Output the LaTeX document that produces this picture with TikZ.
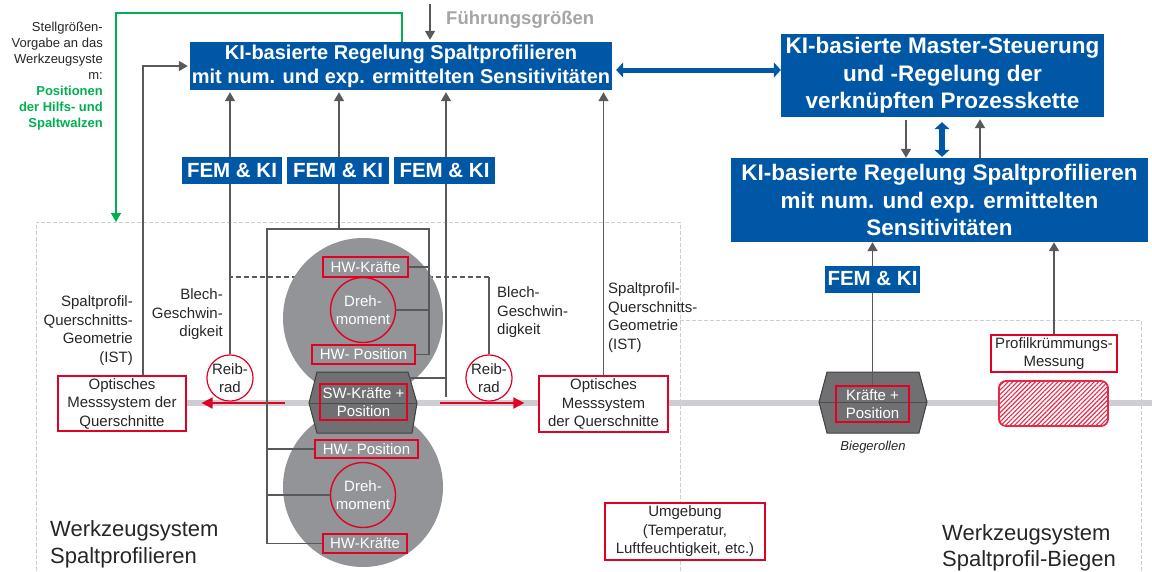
\documentclass[tikz,border=0pt]{standalone}
\usepackage{fontspec}
\setmainfont{Liberation Sans}
\usetikzlibrary{arrows.meta,patterns.meta}

\definecolor{kiblue}{RGB}{0,87,165}
\definecolor{kired}{RGB}{226,0,36}
\definecolor{hatchred}{RGB}{232,40,70}
\definecolor{kigreen}{RGB}{0,176,80}
\definecolor{linegray}{RGB}{88,89,91}
\definecolor{rollgray}{RGB}{147,148,151}
\definecolor{hexgray}{RGB}{112,112,115}
\definecolor{bandgray}{RGB}{204,206,209}
\definecolor{zonegray}{RGB}{205,205,205}
\definecolor{labelgray}{RGB}{165,165,165}

\newcommand{\fsz}[2]{\fontsize{#1}{#2}\selectfont}

\tikzset{
  kibox/.style={fill=kiblue, text=white, align=center, inner sep=0pt,
    font=\bfseries\fsz{20}{24}},
  kibig/.style={kibox, font=\bfseries\fsz{22.5}{27.5}},
  fem/.style={kibox, minimum height=27pt, font=\bfseries\fsz{20.5}{24}},
  messbox/.style={draw=kired, line width=1.2pt, fill=white, align=center,
    inner sep=0pt, text=black!85, font=\fsz{15}{18.5}},
  hwbox/.style={draw=kired, line width=1.6pt, text=white, align=center,
    inner sep=0pt, font=\fsz{15}{18.5}},
  dreh/.style={circle, draw=kired, line width=1.4pt, text=white, align=center,
    inner sep=0pt, minimum size=65pt, font=\fsz{15}{17.5}},
  reib/.style={circle, draw=kired, line width=1.2pt, fill=white, align=center,
    inner sep=0pt, minimum size=44pt, text=black!85, font=\fsz{15}{18}},
  roll/.style={circle, fill=rollgray, minimum size=160pt, inner sep=0pt},
  messfeld/.style={draw=hatchred, line width=1.8pt, rounded corners=7pt,
    preaction={fill=white},
    pattern={Lines[angle=45, distance=3.2pt, line width=1.1pt]},
    pattern color=hatchred},
  beschriftung/.style={inner sep=0pt, text=black!85, font=\fsz{15}{18.5}},
  hexa/.style={fill=hexgray, draw=black!75, line width=1pt},
  hexmitte/.style={draw=black!70, line width=1pt},
  zone/.style={draw=zonegray, line width=0.8pt, dash pattern=on 4pt off 2pt},
  band/.style={draw=bandgray, line width=6pt},
  sig/.style={draw=linegray, line width=1.6pt},
  pfeil/.style={sig, ->, shorten >=2pt},
  gruen/.style={draw=kigreen, line width=1.6pt, ->},
  rotpfeil/.style={draw=kired, line width=1.8pt, -{Triangle[length=11pt,width=11pt]}},
  blaupfeil/.style={draw=kiblue, line width=5pt,
    {Triangle[length=7pt,width=15pt]}-{Triangle[length=7pt,width=15pt]}}
}

\begin{document}
\begin{tikzpicture}[x=1pt, y=-1pt, >={Triangle[length=9pt,width=10pt]}]
  \useasboundingbox (0,0) rectangle (1152,571);

  % Werkzeugsysteme
  \draw[zone] (36,571) -- (36,222) -- (680,222) -- (680,571);
  \draw[zone] (680,320) -- (1141,320) -- (1141,571);

  % Blechband
  \draw[band] (186,403) -- (1152,403);

  % Reibraeder, Blechgeschwindigkeit
  \node[reib] (reibL) at (230,378) {Reib-\\rad};
  \node[reib] (reibR) at (489,378) {Reib-\\rad};
  \coordinate (geschw) at (489,277);
  \draw[sig] (reibR.north) -- (geschw);
  \draw[sig, dash pattern=on 5pt off 3pt] (geschw) -- (geschw -| reibL.north);

  % Hilfs- und Spaltwalzen
  \node[roll] (rollTop) at (363,318) {};
  \node[roll] (rollBot) at (363,487) {};
  \draw[hexa] (317,372) -- (408,372) -- (417,403) -- (412,433) -- (317,433) -- (309,403) -- cycle;
  \draw[hexmitte] (309,403) -- (417,403);

  \node[hwbox, minimum width=85pt, minimum height=20pt] (kraefteTop) at (365.5,267) {HW-Kräfte};
  \node[dreh] (drehTop) at (363,310) {Dreh-\\moment};
  \node[hwbox, minimum width=103pt, minimum height=19pt] (posTop) at (363.5,354.5) {HW- Position};
  \node[hwbox, minimum width=87pt, minimum height=36pt] (swbox) at (363.5,402) {SW-Kräfte +\\Position};
  \node[hwbox, minimum width=103pt, minimum height=18pt] (posBot) at (366.5,449) {HW- Position};
  \node[dreh] (drehBot) at (363,495) {Dreh-\\moment};
  \node[hwbox, minimum width=84pt, minimum height=19pt] (kraefteBot) at (365,543.5) {HW-Kräfte};

  % Messsysteme
  \node[messbox, minimum width=128pt, minimum height=55pt] (optL) at (122,403.5) {Optisches\\Messsystem der\\Querschnitte};
  \node[messbox, minimum width=129pt, minimum height=56pt] (optR) at (603.5,404) {Optisches\\Messsystem\\der Querschnitte};
  \node[messbox, minimum width=160pt, minimum height=57pt] (umgebung) at (685,531.5) {Umgebung\\(Temperatur,\\Luftfeuchtigkeit, etc.)};

  \coordinate (bandL) at (285,403);
  \coordinate (bandR) at (440,403);
  \draw[rotpfeil, shorten >=15pt] (bandL) -- (optL.east |- bandL);
  \draw[rotpfeil, shorten >=14pt] (bandR) -- (optR.west |- bandR);

  % Regelung Spaltprofilieren
  \node[kibox, minimum width=422pt, minimum height=48pt] (regel) at (401,66) {KI-basierte Regelung Spaltprofilieren\\mit num. und exp. ermittelten Sensitivitäten};

  \coordinate (rahmenL) at (267,229);
  \coordinate (rahmenR) at (429,229);
  \coordinate (rahmenM) at (339,229);
  \draw[sig] (kraefteBot.west) -| (rahmenL) -- (rahmenR) |- (posTop.east);
  \draw[sig] (posBot.west) -- (posBot.west -| rahmenL);
  \draw[sig] (drehBot.west) -- (drehBot.west -| rahmenL);
  \draw[sig] (kraefteTop.east) -- (kraefteTop.east -| rahmenR);
  \draw[sig] (drehTop.east) -- (drehTop.east -| rahmenR);
  \coordinate (swAbgriff) at (446,397);
  \coordinate (swStub) at (409,378);
  \draw[sig] (swStub) -- (swStub -| swAbgriff);

  \draw[pfeil] ([xshift=21pt]optL.north) |- (regel.west);
  \draw[pfeil] (reibL.north) -- (reibL.north |- regel.south);
  \draw[pfeil] (rahmenM) -- (rahmenM |- regel.south);
  \draw[pfeil] (swAbgriff) -- (swAbgriff |- regel.south);
  \draw[pfeil] (optR.north) -- (optR.north |- regel.south);

  \node[fem, minimum width=100pt] (fem1) at (232,170.5) {FEM \& KI};
  \node[fem, minimum width=102pt] (fem2) at (338,170.5) {FEM \& KI};
  \node[fem, minimum width=101pt] (fem3) at (444.5,170.5) {FEM \& KI};

  % Fuehrungsgroessen und Stellgroessen
  \node[font=\bfseries\fsz{18.5}{22}, text=labelgray, inner sep=0pt, anchor=west] (fuehr) at (446,20) {Führungsgrößen};
  \coordinate (fgEin) at (430,4);
  \draw[pfeil] (fgEin) -- (fgEin |- regel.north);

  \coordinate (vorgabe) at (116,222);
  \draw[gruen] ([xshift=1pt]regel.north) |- (vorgabe |- 0,13) -- (vorgabe);
  \node[beschriftung, font=\fsz{13}{16}, align=right, anchor=north east] (stell) at (103,22)
    {Stellgrößen-\\Vorgabe an das\\Werkzeugsyste\\m:\\\textcolor{kigreen}{\textbf{Positionen}}\\\textcolor{kigreen}{\textbf{der Hilfs- und}}\\\textcolor{kigreen}{\textbf{Spaltwalzen}}};

  % Master-Steuerung
  \node[kibig, minimum width=323pt, minimum height=83pt] (master) at (942.5,75.5) {KI-basierte Master-Steuerung\\und -Regelung der\\verknüpften Prozesskette};
  \node[kibig, minimum width=417pt, minimum height=84pt] (regel2) at (939.5,200) {KI-basierte Regelung Spaltprofilieren\\mit num. und exp. ermittelten\\Sensitivitäten};
  \coordinate (kopplung) at ([yshift=-4pt]regel.east);
  \draw[blaupfeil, shorten <=4pt] (kopplung) -- (kopplung -| master.west);
  \draw[pfeil, shorten <=3pt, shorten >=0pt] (master.south -| 906,0) -- (regel2.north -| 906,0);
  \draw[blaupfeil, line width=5.5pt, shorten <=5pt, shorten >=1pt] (master.south -| 942,0) -- (regel2.north -| 942,0);
  \draw[pfeil] (regel2.north -| 980,0) -- (master.south -| 980,0);

  % Spaltprofil-Biegen
  \draw[hexa] (827,372) -- (919,372) -- (927,402) -- (919,433) -- (827,433) -- (819,402) -- cycle;
  \draw[hexmitte] (819,402) -- (927,402);
  \node[hwbox, minimum width=73pt, minimum height=36pt] (kraefte) at (872.5,404) {Kräfte +\\Position};
  \node[font=\itshape\fsz{13}{15}, text=black!85, inner sep=0pt] (biege) at (873,447) {Biegerollen};
  \node[messbox, minimum width=126pt, minimum height=37pt] (profil) at (1054,353.5) {Profilkrümmungs-\\Messung};
  \node[messfeld, minimum width=109pt, minimum height=45pt] (kruemmung) at (1053.5,403.5) {};
  \draw[pfeil, shorten >=0pt] (kraefte.north) -- (kraefte.north |- regel2.south);
  \draw[pfeil, shorten >=0pt] (profil.north) -- (profil.north |- regel2.south);
  \node[fem, minimum width=95pt] (fem4) at (872.5,279) {FEM \& KI};

  % Beschriftungen
  \node[beschriftung, align=right, anchor=north east] (spaltL) at (133,295.5) {Spaltprofil-\\Querschnitts-\\Geometrie\\(IST)};
  \node[beschriftung, align=right, anchor=north east] (blechL) at (223,288.5) {Blech-\\Geschwin-\\digkeit};
  \node[beschriftung, align=left, anchor=north west] (blechR) at (497,286.5) {Blech-\\Geschwin-\\digkeit};
  \node[beschriftung, align=left, anchor=north west] (spaltR) at (608,282.5) {Spaltprofil-\\Querschnitts-\\Geometrie\\(IST)};
  \node[beschriftung, font=\fsz{22}{27}, align=left, anchor=north west] (wsSP) at (50,520) {Werkzeugsystem\\Spaltprofilieren};
  \node[beschriftung, font=\fsz{22}{26}, align=left, anchor=north west] (wsSB) at (942,524) {Werkzeugsystem\\Spaltprofil-Biegen};
\end{tikzpicture}
\end{document}
